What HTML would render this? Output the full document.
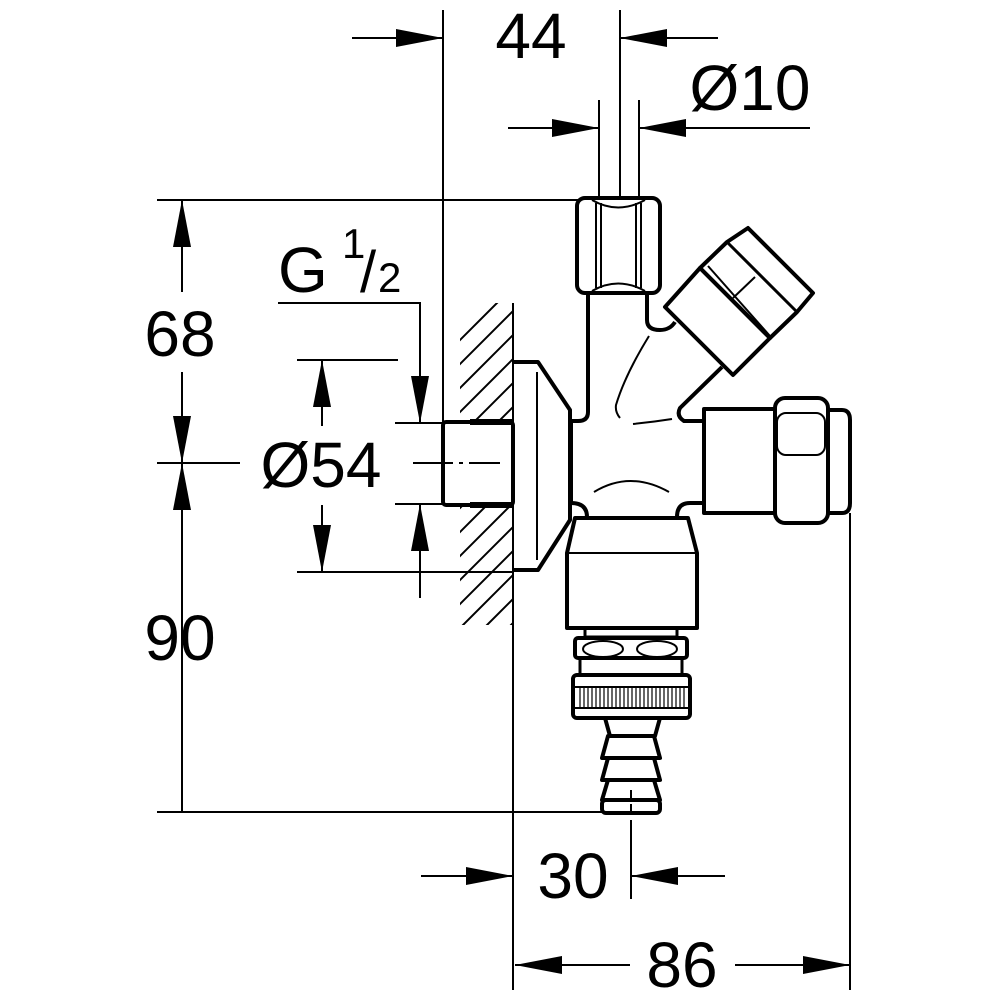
<!DOCTYPE html>
<html><head><meta charset="utf-8"><style>html,body{margin:0;padding:0;background:#fff}svg{display:block}</style></head><body>
<svg width="1000" height="1000" viewBox="0 0 1000 1000" xmlns="http://www.w3.org/2000/svg" font-family="Liberation Sans, sans-serif">
<defs>
<clipPath id="hc"><polygon points="460,303 513,303 513,421 460,421"/><polygon points="460,506 513,506 513,625 460,625"/></clipPath>
</defs>
<g stroke="#000" stroke-width="2" fill="none">
<line x1="443" y1="10" x2="443" y2="423"/>
<line x1="620" y1="10" x2="620" y2="200"/>
<line x1="599" y1="100" x2="599" y2="200"/>
<line x1="639" y1="100" x2="639" y2="200"/>
<line x1="157" y1="200" x2="578" y2="200"/>
<line x1="182" y1="200" x2="182" y2="292"/>
<line x1="182" y1="372" x2="182" y2="598"/>
<line x1="182" y1="598" x2="182" y2="812"/>
<line x1="157" y1="463" x2="240" y2="463"/>
<line x1="157" y1="812" x2="610" y2="812"/>
<line x1="297" y1="360" x2="398" y2="360"/>
<line x1="297" y1="572" x2="513" y2="572"/>
<line x1="322" y1="360" x2="322" y2="426"/>
<line x1="322" y1="505" x2="322" y2="572"/>
<line x1="395" y1="423" x2="443" y2="423"/>
<line x1="395" y1="504" x2="443" y2="504"/>
<polyline points="278,303 420,303 420,423"/>
<line x1="420" y1="504" x2="420" y2="598"/>
<line x1="413" y1="463" x2="500" y2="463" stroke-dasharray="40,6,4,6"/>
<line x1="352" y1="38" x2="443" y2="38"/>
<line x1="620" y1="38" x2="718" y2="38"/>
<line x1="508" y1="128" x2="599" y2="128"/>
<line x1="639" y1="128" x2="810" y2="128"/>
<line x1="421" y1="876" x2="513" y2="876"/>
<line x1="631" y1="876" x2="725" y2="876"/>
<line x1="631" y1="820" x2="631" y2="899"/>
<line x1="631" y1="790" x2="631" y2="815" stroke-dasharray="10,4"/>
<line x1="513" y1="303" x2="513" y2="990"/>
<line x1="850" y1="513" x2="850" y2="990"/>
<line x1="515" y1="965" x2="630" y2="965"/>
<line x1="735" y1="965" x2="850" y2="965"/>
<g clip-path="url(#hc)">
<line x1="420" y1="380" x2="540" y2="260"/><line x1="420" y1="404" x2="540" y2="284"/><line x1="420" y1="428" x2="540" y2="308"/><line x1="420" y1="452" x2="540" y2="332"/><line x1="420" y1="476" x2="540" y2="356"/><line x1="420" y1="500" x2="540" y2="380"/><line x1="420" y1="524" x2="540" y2="404"/><line x1="420" y1="548" x2="540" y2="428"/><line x1="420" y1="572" x2="540" y2="452"/><line x1="420" y1="596" x2="540" y2="476"/><line x1="420" y1="620" x2="540" y2="500"/><line x1="420" y1="644" x2="540" y2="524"/><line x1="420" y1="668" x2="540" y2="548"/><line x1="420" y1="692" x2="540" y2="572"/><line x1="420" y1="716" x2="540" y2="596"/><line x1="420" y1="740" x2="540" y2="620"/>
</g>
</g>
<g fill="#000">
<polygon points="182,200 173,247 191,247"/>
<polygon points="182,463 173,416 191,416"/>
<polygon points="182,463 173,510 191,510"/>
<polygon points="322,360 313,407 331,407"/>
<polygon points="322,572 313,525 331,525"/>
<polygon points="420,423 411,376 429,376"/>
<polygon points="420,504 411,551 429,551"/>
<polygon points="443,38 396,29 396,47"/>
<polygon points="620,38 667,29 667,47"/>
<polygon points="599,128 552,119 552,137"/>
<polygon points="639,128 686,119 686,137"/>
<polygon points="513,876 466,867 466,885"/>
<polygon points="631,876 678,867 678,885"/>
<polygon points="515,965 562,956 562,974"/>
<polygon points="850,965 803,956 803,974"/>
</g>
<g stroke="#000" stroke-width="4" fill="none" stroke-linejoin="round">
<rect x="443" y="422" width="70" height="83" rx="3"/>
<line x1="470" y1="505" x2="513" y2="505" stroke-width="6"/>
<line x1="470" y1="422" x2="513" y2="422" stroke-width="6"/>
<polyline points="513,362 538,362 570,410 570,520 538,570 513,570"/>
<rect x="577" y="198" width="83" height="95" rx="8"/>
<path d="M588,293 L588,412 Q588,421 578,421 L571,421 L571,503 Q587,503 587,517"/>
<path d="M647,293 L647,320 Q647,330 660,330 Q670,330 675,322"/>
<path d="M722,367 L680,408 Q676,416 684,421 L704,421"/>
<path d="M677,517 Q677,503 690,503 L704,503"/>
<polygon points="665,307 700,268 770,338 733,375"/>
<polygon points="700,268 727,242 748,228 813,293 797,312 770,338"/>
<rect x="704" y="409" width="71" height="104"/>
<rect x="775" y="398" width="53" height="125" rx="10"/>
<path d="M828,410 L842,410 Q850,410 850,420 L850,503 Q850,513 842,513 L828,513"/>
<polygon points="575,518 688,518 697,553 697,628 567,628 567,553"/>
<rect x="585" y="628" width="92" height="9" stroke-width="3"/>
<rect x="575" y="638" width="112" height="20" rx="3"/>
<rect x="580" y="658" width="102" height="17" stroke-width="3"/>
<rect x="573" y="675" width="117" height="43" rx="4"/>
<polygon points="605,718 660,718 655,736 610,736"/>
<polygon points="608,736 654,736 660,758 602,758"/>
<polygon points="608,758 654,758 660,780 602,780"/>
<polygon points="608,780 654,780 660,800 602,800"/>
<rect x="602" y="800" width="58" height="13" rx="4"/>
</g>
<g stroke="#000" stroke-width="2" fill="none">
<line x1="537" y1="372" x2="537" y2="560"/>
<line x1="596" y1="203" x2="596" y2="288"/><line x1="601" y1="203" x2="601" y2="288"/>
<line x1="636" y1="203" x2="636" y2="288"/><line x1="641" y1="203" x2="641" y2="288"/>
<path d="M592,200 Q618,215 645,200"/><path d="M592,291 Q618,276 645,291"/>
<line x1="727" y1="242" x2="797" y2="312" stroke-width="3"/>
<line x1="708" y1="266" x2="770" y2="336"/>
<line x1="733" y1="298" x2="755" y2="277"/>
<path d="M649,336 Q625,375 616,405 Q615,412 620,418"/>
<path d="M633,424 Q653,422 672,419"/>
<path d="M594,492 Q630,470 669,492"/>
<rect x="777" y="413" width="48" height="42" rx="9"/>
<line x1="567" y1="553" x2="697" y2="553"/>
<ellipse cx="603" cy="649" rx="20" ry="8"/>
<ellipse cx="657" cy="649" rx="20" ry="8"/>
<rect x="574" y="687" width="115" height="21"/>
<path d="M580,687V708M584,687V708M588,687V708M592,687V708M596,687V708M600,687V708M604,687V708M608,687V708M612,687V708M616,687V708M620,687V708M624,687V708M628,687V708M632,687V708M636,687V708M640,687V708M644,687V708M648,687V708M652,687V708M656,687V708M660,687V708M664,687V708M668,687V708M672,687V708M676,687V708M680,687V708M684,687V708" stroke-width="1.2"/>
</g>
<g fill="#000" font-size="64">
<text x="531" y="58" text-anchor="middle">44</text>
<text x="750" y="110" text-anchor="middle">Ø10</text>
<text x="180" y="356" text-anchor="middle">68</text>
<text x="180" y="660" text-anchor="middle">90</text>
<text x="321" y="487" text-anchor="middle">Ø54</text>
<text x="573" y="898" text-anchor="middle">30</text>
<text x="682" y="987" text-anchor="middle">86</text>
<text x="278" y="292">G</text>
<text x="342" y="258" font-size="42">1</text>
<text x="360" y="292" font-size="58">/</text>
<text x="378" y="292" font-size="42">2</text>
</g>
</svg>
</body></html>
